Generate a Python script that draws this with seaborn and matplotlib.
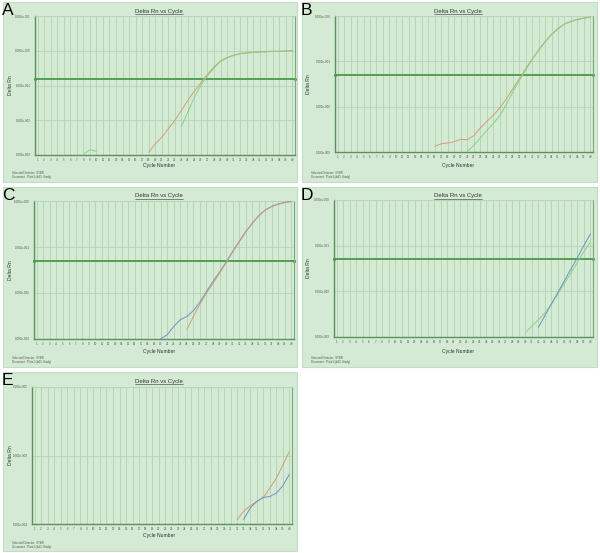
import math
import matplotlib
matplotlib.use("Agg")
import matplotlib.pyplot as plt
from matplotlib.patches import Rectangle
from matplotlib.lines import Line2D
import matplotlib.ticker as mticker
import seaborn as sns
import pandas as pd

# ---- data (Delta Rn per cycle) ----
a_orange_cyc = list(range(18, 41))
a_orange = [1.19e-3, 2.08e-3, 3.24e-3, 5.65e-3, 9.84e-3, 1.91e-2, 3.72e-2, 6.93e-2, 0.12, 0.21,
            0.343, 0.51, 0.638, 0.745, 0.832, 0.87, 0.91, 0.93, 0.95, 0.97, 0.97, 0.995, 1.02]
a_bump_cyc = [8, 9, 10]
a_bump = [1.02e-3, 1.43e-3, 1.28e-3]
a_green_cyc = list(range(23, 41))
a_green = [6.6e-3, 1.71e-2, 4.65e-2, 0.101, 0.192, 0.32, 0.49, 0.62, 0.73, 0.82, 0.86, 0.89,
           0.91, 0.93, 0.95, 0.95, 0.97, 0.995]

b_orange_cyc = list(range(16, 41))
b_orange = [1.33e-3, 1.52e-3, 1.58e-3, 1.69e-3, 1.90e-3, 1.87e-3, 2.29e-3, 3.37e-3, 4.73e-3,
            6.41e-3, 9.3e-3, 1.47e-2, 2.44e-2, 4.04e-2, 6.83e-2, 0.111, 0.179, 0.273, 0.395,
            0.536, 0.668, 0.764, 0.846, 0.905, 0.952]
b_green_cyc = list(range(21, 41))
b_green = [1.03e-3, 1.40e-3, 2.03e-3, 2.95e-3, 4.20e-3, 6.31e-3, 1.10e-2, 2.06e-2, 3.72e-2,
           6.49e-2, 0.108, 0.173, 0.264, 0.383, 0.519, 0.656, 0.752, 0.832, 0.889, 0.935]

c_blue_cyc = list(range(20, 41))
c_blue = [1.01e-3, 1.24e-3, 1.88e-3, 2.63e-3, 3.10e-3, 4.12e-3, 6.35e-3, 1.08e-2, 1.78e-2,
          2.84e-2, 4.68e-2, 7.97e-2, 0.131, 0.217, 0.328, 0.482, 0.64, 0.767, 0.863, 0.937, 0.985]
c_orange_cyc = list(range(24, 41))
c_orange = [1.59e-3, 3.10e-3, 5.74e-3, 9.95e-3, 1.61e-2, 2.70e-2, 4.53e-2, 7.71e-2, 0.127,
            0.209, 0.323, 0.473, 0.628, 0.755, 0.847, 0.922, 0.968]

d_blue_cyc = list(range(32, 41))
d_blue = [1.63e-3, 2.93e-3, 5.26e-3, 9.46e-3, 1.70e-2, 3.06e-2, 5.50e-2, 0.101, 0.181]
d_green_cyc = list(range(30, 41))
d_green = [1.26e-3, 1.71e-3, 2.39e-3, 3.35e-3, 5.26e-3, 8.70e-3, 1.49e-2, 2.50e-2, 4.28e-2,
           7.45e-2, 0.119]

e_orange_cyc = list(range(32, 41))
e_orange = [1.16e-4, 1.53e-4, 1.85e-4, 2.13e-4, 2.44e-4, 3.33e-4, 4.66e-4, 7.28e-4, 1.14e-3]
e_blue_cyc = list(range(33, 41))
e_blue = [1.16e-4, 1.71e-4, 2.13e-4, 2.44e-4, 2.52e-4, 2.82e-4, 3.61e-4, 5.33e-4]

thresholds = {"A": 0.15, "B": 0.05, "C": 0.05, "D": 0.05, "E": None}
yticks = {
    "A": [1e-3, 1e-2, 1e-1, 1e0, 1e1],
    "B": [1e-3, 1e-2, 1e-1, 1e0],
    "C": [1e-3, 1e-2, 1e-1, 1e0],
    "D": [1e-3, 1e-2, 1e-1, 1e0],
    "E": [1e-4, 1e-3, 1e-2],
}
cycles = list(range(1, 41))
title_text = "Delta Rn vs Cycle"
xlabel_text = "Cycle Number"
ylabel_text = "Delta Rn"
footer_text = "Selected Detector:  SYBR\nDocument:  Plate1 (ddCt Study)"

series = {
    "A": [("orange", "o1", a_orange_cyc, a_orange), ("green", "g0", a_bump_cyc, a_bump),
          ("green", "g1", a_green_cyc, a_green)],
    "B": [("orange", "o1", b_orange_cyc, b_orange), ("green", "g1", b_green_cyc, b_green)],
    "C": [("blue", "b1", c_blue_cyc, c_blue), ("orange", "o1", c_orange_cyc, c_orange)],
    "D": [("green", "g1", d_green_cyc, d_green), ("blue", "b1", d_blue_cyc, d_blue)],
    "E": [("orange", "o1", e_orange_cyc, e_orange), ("blue", "b1", e_blue_cyc, e_blue)],
}

# ---- layout (pixels) ----
W, H = 600, 553
panel_px = {"A": (3, 2, 297, 182), "B": (302, 2, 597, 182), "C": (3, 187, 297, 367),
            "D": (302, 187, 597, 367), "E": (3, 372, 297, 551)}
axes_px = {"A": (35, 16, 295, 155), "B": (335, 16, 593, 152), "C": (34, 201, 294, 339),
           "D": (334, 200, 593, 337), "E": (32, 387, 292, 524)}

BG = "#d4ead4"
palette = {"orange": "#cf9f78", "green": "#86d386", "blue": "#7290c6"}

sns.set_theme(style="white")
plt.rcParams['font.family'] = ['Liberation Sans', 'DejaVu Sans']

fig = plt.figure(figsize=(6, 5.53), dpi=100)


def fbox(l, t, r, b):
    return [l / W, 1 - b / H, (r - l) / W, (b - t) / H]


def sci_label(v):
    e = round(math.log10(v))
    return "1.000e%s%03d" % ("+" if e >= 0 else "-", abs(e))


titles = []
for key in ["A", "B", "C", "D", "E"]:
    pl, pt, pr, pb = panel_px[key]
    fig.add_artist(Rectangle((pl / W, 1 - pb / H), (pr - pl) / W, (pb - pt) / H,
                             transform=fig.transFigure, facecolor=BG,
                             edgecolor="#c2dec2", lw=0.8, zorder=0))
    ax = fig.add_axes(fbox(*axes_px[key]))
    ax.set_facecolor(BG)

    rows = []
    for dye, seg, cyc, vals in series[key]:
        for c, v in zip(cyc, vals):
            rows.append({"cycle": c, "rn": v, "dye": dye, "seg": seg})
    df = pd.DataFrame(rows)
    sns.lineplot(data=df, x="cycle", y="rn", hue="dye", units="seg", estimator=None,
                 palette=palette, lw=0.7, legend=False, ax=ax, zorder=3)

    ax.set_yscale("log")
    ax.set_ylim(yticks[key][0], yticks[key][-1])
    ax.set_xlim(0.6, 40.4)
    ax.set_xticks(cycles)
    ax.set_xticklabels([str(c) for c in cycles])
    ax.set_yticks(yticks[key])
    ax.set_yticklabels([sci_label(v) for v in yticks[key]])
    ax.yaxis.set_minor_locator(mticker.NullLocator())
    ax.tick_params(axis="both", labelsize=2.2, colors="#555555", length=1.5, width=0.4, pad=1.5)
    ax.tick_params(axis="x", length=0, pad=2.5)
    ax.grid(True, axis="x", color="#a9cfa9", lw=0.5)
    ax.grid(True, axis="y", color="#b2d4b2", lw=0.6)
    ax.set_xlabel("")
    ax.set_ylabel("")
    for side, col, w in [("left", "#5e8f5e", 1.0), ("bottom", "#5e8f5e", 1.0),
                         ("right", "#7aa97a", 0.8), ("top", "#b6d6b6", 0.5)]:
        ax.spines[side].set_color(col)
        ax.spines[side].set_linewidth(w)

    if thresholds[key]:
        ax.plot([0.6, 40.4], [thresholds[key]] * 2, color="#4a9a4a", lw=1.3,
                marker="o", ms=1.2, zorder=2, clip_on=False)

    al, at, ar, ab = axes_px[key]
    titles.append(fig.text((pl + 156) / W, 1 - (pt + 9) / H, title_text, ha="center",
                           va="center", fontsize=4.3, color="#333333"))
    fig.text((pl + 156) / W, 1 - (pt + 164) / H, xlabel_text, ha="center", va="center",
             fontsize=3.6, color="#333333")
    fig.text((pl + 7) / W, 1 - ((at + ab) / 2) / H, ylabel_text, ha="center", va="center",
             rotation=90, fontsize=3.6, color="#333333")
    fig.text((pl + 9) / W, 1 - (pt + 173) / H, footer_text, ha="left", va="center",
             fontsize=2.0, color="#555555", linespacing=1.3)
    fig.text((pl - 1) / W, 1 - (pt + 1) / H, key, ha="left", va="top", fontsize=12.5,
             color="black")

# underline the titles
fig.canvas.draw()
inv = fig.transFigure.inverted()
for t in titles:
    bb = t.get_window_extent()
    (x0, y0), (x1, _) = inv.transform([(bb.x0, bb.y0 - 0.3), (bb.x1, bb.y0)])
    fig.add_artist(Line2D([x0, x1], [y0, y0], transform=fig.transFigure,
                          color="#333333", lw=0.4))

fig.savefig("out.png", dpi=100)
